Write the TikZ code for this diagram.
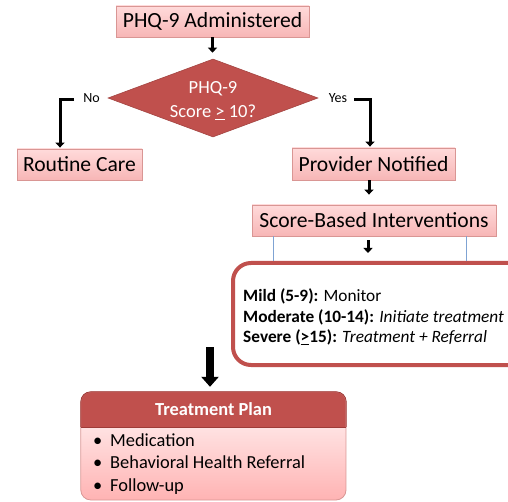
\documentclass[tikz,border=0pt]{standalone}
\usepackage{fontspec}
\setmainfont{Carlito}
\usetikzlibrary{shapes.geometric,arrows.meta,backgrounds}
\definecolor{accred}{HTML}{C0504D}
\definecolor{accdark}{HTML}{9E3B38}
\definecolor{pinktop}{HTML}{FFDADA}
\definecolor{pinkbot}{HTML}{F7B6B6}
\definecolor{pinkline}{HTML}{D99694}
\definecolor{linkblue}{HTML}{7FA3D3}
\definecolor{tptop}{HTML}{FFE2E2}
\definecolor{tpbot}{HTML}{FFB3B3}
\tikzset{
  pinkbox/.style={draw=pinkline, line width=0.8pt, top color=pinktop, bottom color=pinkbot,
    minimum height=31pt, inner sep=0pt, font=\fontsize{21.6}{26}\selectfont},
  arr/.style={line width=3pt, -{Triangle[length=5pt,width=9pt]}},
  bigarr/.style={line width=8pt, -{Triangle[length=10pt,width=17pt]}},
  smalllabel/.style={inner sep=0pt, font=\fontsize{14}{16}\selectfont},
  bluelink/.style={draw=linkblue, line width=1pt}
}
\begin{document}
\begin{tikzpicture}[x=1pt,y=-1pt]
\useasboundingbox (0,0) rectangle (508,502);
\clip (0,0) rectangle (508,502);

% boxes
\node[pinkbox, minimum width=193pt] (phq) at (212.5,21.5) {PHQ-9 Administered};
\node[diamond, fill=accred, draw=accred!85!black, line width=0.6pt, inner sep=0pt,
      minimum width=210pt, minimum height=78pt, aspect=2.69] (dec) at (213,98) {};
\node[text=white, align=center, inner sep=0pt,
      font=\fontsize{18.5}{24}\selectfont] (dectext) at (213,100.5) {PHQ-9\\Score \underline{>} 10?};
\node[smalllabel] (no) at (91.5,98) {No};
\node[smalllabel] (yes) at (338,98) {Yes};
\node[pinkbox, minimum width=125pt] (routine) at (79.5,164.5) {Routine Care};
\node[pinkbox, minimum width=163pt, minimum height=32pt] (prov) at (373.5,164) {Provider Notified};
\node[pinkbox, minimum width=244pt] (score) at (374,220.5) {Score-Based Interventions};

% helper coordinates
\coordinate (nl) at (74,100);
\coordinate (nlx) at (60,0);
\coordinate (yl) at (354,100);
\coordinate (yrx) at (370,0);
\coordinate (px) at (369,0);
\coordinate (sx) at (368,0);
\coordinate (b1) at (273,0);
\coordinate (b2) at (466,0);
\coordinate (bat) at (210,347);
\coordinate (tpb) at (346,500);

% connectors top part
\draw[arr, shorten >=6pt] (phq.south) -- (phq.south |- dec.north);
\draw[arr, shorten >=1pt] (nl) -| (routine.north -| nlx);
\draw[arr, shorten >=1pt] (yl) -| (prov.north -| yrx);
\draw[arr, shorten >=10pt] (prov.south -| px) -- (score.north -| px);

% levels box
\node[draw=accred, line width=4pt, rounded corners=18pt, fill=white,
      minimum width=307pt, minimum height=102pt] (levels) at (386.5,314) {};
\draw[bluelink] (score.south -| b1) -- (levels.north -| b1);
\draw[bluelink] (score.south -| b2) -- (levels.north -| b2);
\draw[arr, shorten <=4pt, shorten >=8pt] (score.south -| sx) -- (levels.north -| sx);
\node[anchor=west, align=left, inner sep=0pt, font=\fontsize{17.3}{20.5}\selectfont] (levtext) at (243,317)
  {\textbf{Mild (5-9):} Monitor\\
   \textbf{Moderate (10-14):} \textit{Initiate treatment}\\
   \textbf{Severe (\underline{>}15):} \textit{Treatment + Referral}};

% treatment plan
\node[minimum width=265pt, minimum height=35pt, inner sep=0pt, text=white,
      font=\bfseries\fontsize{18.4}{22}\selectfont] (tphead) at (213.5,409.5) {Treatment Plan};
\node[anchor=west, align=left, inner sep=0pt, font=\fontsize{18.4}{22.5}\selectfont] (tplist) at (93,464)
  {\makebox[17pt][l]{•}Medication\\
   \makebox[17pt][l]{•}Behavioral Health Referral\\
   \makebox[17pt][l]{•}Follow-up};
\begin{scope}[on background layer]
  \begin{scope}
    \clip[rounded corners=10pt] (tphead.north west) rectangle (tpb);
    \shade[top color=tptop, bottom color=tpbot] (tphead.south west) rectangle (tpb);
    \fill[accred] (tphead.north west) rectangle (tphead.south east);
  \end{scope}
  \draw[pinkline, line width=0.8pt, rounded corners=10pt] (tphead.north west) rectangle (tpb);
  \draw[accdark, line width=0.8pt, rounded corners=10pt] (tphead.south west) -- (tphead.north west) -- (tphead.north east) -- (tphead.south east);
  \draw[accdark, line width=0.8pt] (tphead.south west) -- (tphead.south east);
\end{scope}
\draw[bigarr, shorten >=5pt] (bat) -- (tphead.north -| bat);
\end{tikzpicture}
\end{document}
